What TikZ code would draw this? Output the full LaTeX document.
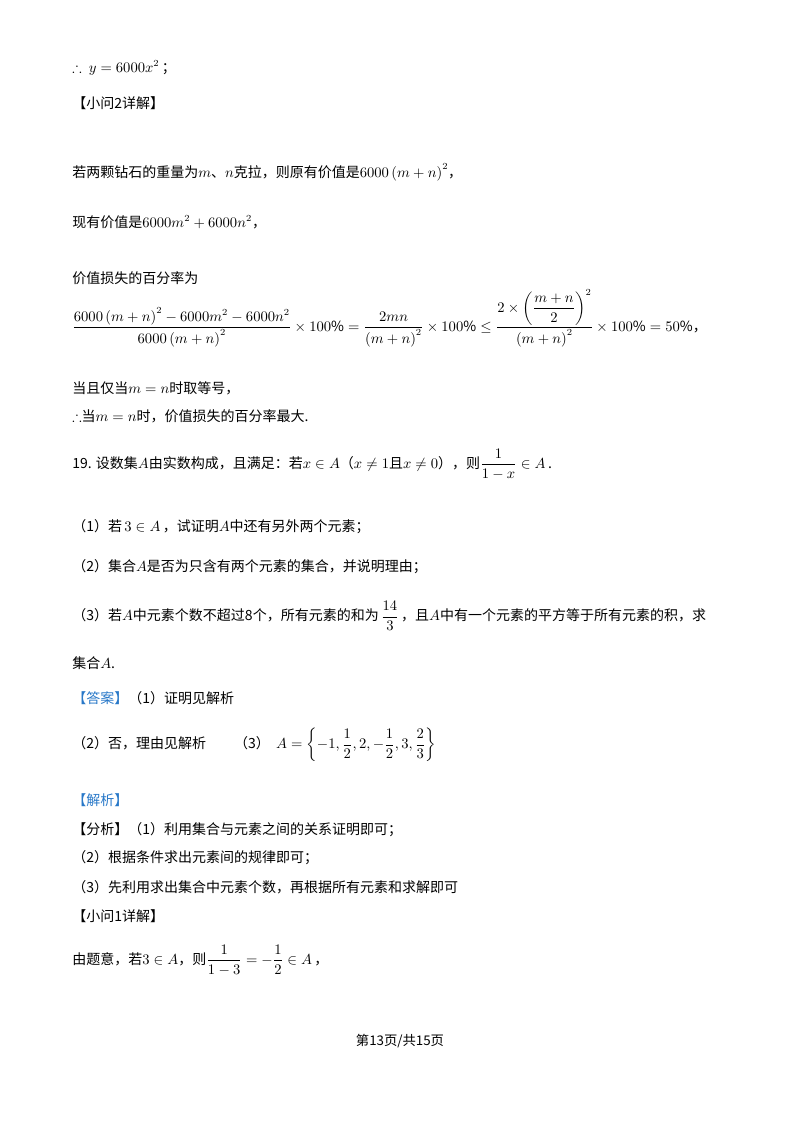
\documentclass[tikz,border=0pt]{standalone}
\usepackage{amsmath,amssymb}
\usepackage{fontspec}
\setmainfont{Noto Sans CJK SC}
\usetikzlibrary{positioning}
\definecolor{ansblue}{RGB}{40,120,200}
\tikzset{line/.style={anchor=west,inner sep=0pt,font=\fontsize{10.5pt}{13pt}\selectfont},
  mark blue/.style={text=ansblue}}
\begin{document}
\begin{tikzpicture}[x=0.75pt,y=-0.75pt]
\useasboundingbox (0,0) rectangle (800,1132);
\node[line] (l1) at (72,68) {$\therefore\ y=6000x^2$\,；};
\node[line] (l2) at (72,103) {【小问2详解】};
\node[line] (l3) at (72,172) {若两颗钻石的重量为$m$、$n$克拉，则原有价值是$6000\left(m+n\right)^2$，};
\node[line] (l4) at (72,222) {现有价值是$6000m^2+6000n^2$，};
\node[line] (l5) at (72,278) {价值损失的百分率为};
\node[line] (l6) at (72,318) {$\displaystyle\frac{6000\left(m+n\right)^2-6000m^2-6000n^2}{6000\left(m+n\right)^2}\times100\%=\frac{2mn}{\left(m+n\right)^2}\times100\%\le\frac{2\times\left(\dfrac{m+n}{2}\right)^2}{\left(m+n\right)^2}\times100\%=50\%$，};
\node[line] (l7) at (72,388) {当且仅当$m=n$时取等号，};
\node[line] (l8) at (72,416) {$\therefore$当$m=n$时，价值损失的百分率最大.};
\node[line] (q19) at (72,464) {19. 设数集$A$由实数构成，且满足：若$x\in A$（$x\neq1$且$x\neq0$），则$\dfrac{1}{1-x}\in A$\,.};
\node[line] (q1) at (72,527) {（1）若\,$3\in A$\,，试证明$A$中还有另外两个元素；};
\node[line] (q2) at (72,567) {（2）集合$A$是否为只含有两个元素的集合，并说明理由；};
\node[line] (q3) at (72,616) {（3）若$A$中元素个数不超过8个，所有元素的和为\,$\dfrac{14}{3}$\,，且$A$中有一个元素的平方等于所有元素的积，求};
\node[line] (q3b) at (72,663) {集合$A$.};
\node[line] (ans1) at (72,698) {\textcolor{ansblue}{【答案】}（1）证明见解析};
\node[line] (ans2) at (72,745) {（2）否，理由见解析\qquad（3）\ \ $A=\left\{-1,\dfrac12,2,-\dfrac12,3,\dfrac23\right\}$};
\node[line,mark blue] (jx) at (72,800) {【解析】};
\node[line] (fx1) at (72,830) {【分析】（1）利用集合与元素之间的关系证明即可；};
\node[line] (fx2) at (72,858) {（2）根据条件求出元素间的规律即可；};
\node[line] (fx3) at (72,887) {（3）先利用求出集合中元素个数，再根据所有元素和求解即可};
\node[line] (xw1) at (72,916) {【小问1详解】};
\node[line] (s1) at (72,960) {由题意，若$3\in A$，则$\dfrac{1}{1-3}=-\dfrac12\in A$\,，};
\node[inner sep=0pt,font=\fontsize{10pt}{12pt}\selectfont] (pg) at (400,1041) {第13页/共15页};
\end{tikzpicture}
\end{document}
